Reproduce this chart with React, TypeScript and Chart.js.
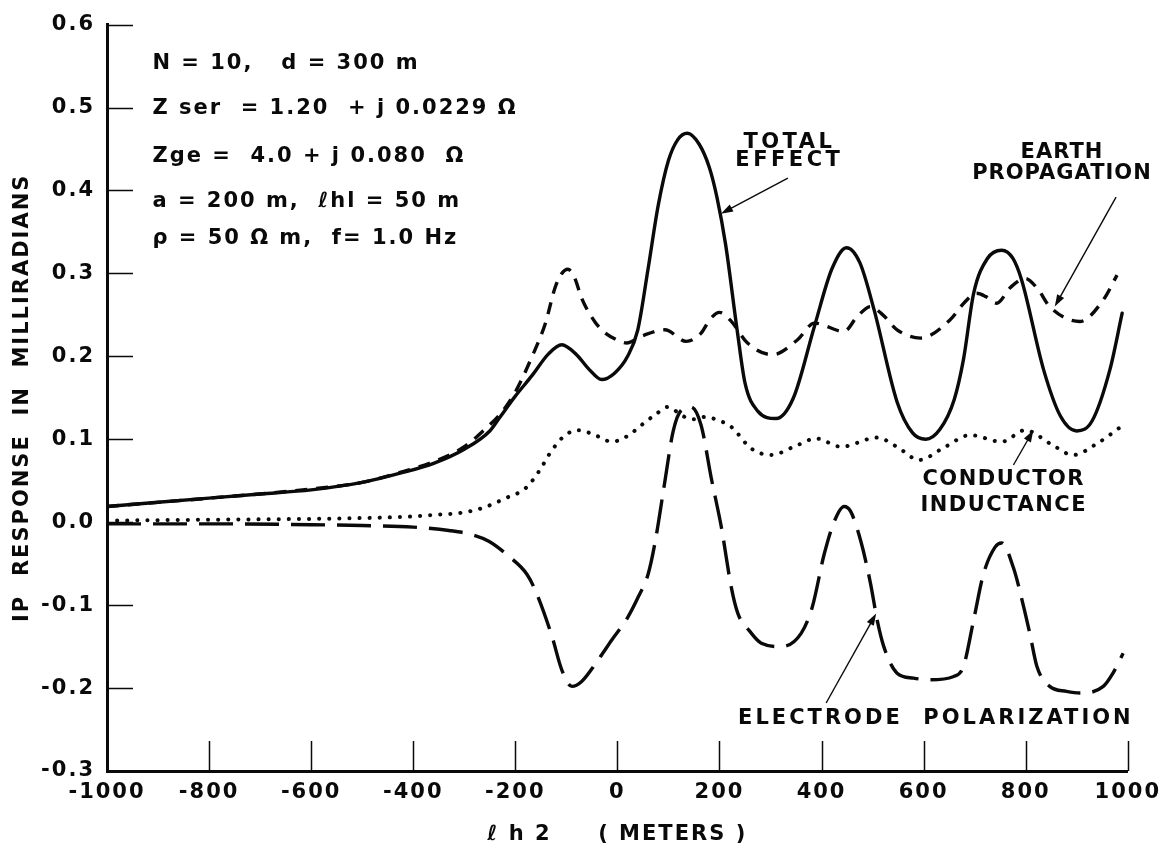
import React, { useEffect, useRef } from 'react';
import { Chart, registerables } from 'chart.js';

Chart.register(...registerables);

// Axis ticks
const xTicks = [-1000, -800, -600, -400, -200, 0, 200, 400, 600, 800, 1000];
const yTicks = [-0.3, -0.2, -0.1, 0.0, 0.1, 0.2, 0.3, 0.4, 0.5, 0.6];

// TOTAL EFFECT (solid)
const totalEffectX = [-1000, -900, -800, -700, -600, -500, -420, -360, -300, -250, -232, -200, -167, -135, -109, -80, -55, -31, -5, 20, 40, 60, 80, 100, 118, 137, 160, 180, 195, 212, 235, 250, 275, 311, 345, 386, 420, 449, 475, 503, 548, 578, 604, 632, 660, 678, 698, 725, 753, 775, 792, 835, 868, 900, 930, 965, 989];
const totalEffectY = [0.019, 0.024, 0.029, 0.034, 0.039, 0.048, 0.060, 0.071, 0.088, 0.110, 0.125, 0.152, 0.177, 0.203, 0.214, 0.202, 0.184, 0.172, 0.180, 0.200, 0.232, 0.305, 0.382, 0.436, 0.461, 0.469, 0.456, 0.428, 0.392, 0.335, 0.230, 0.168, 0.134, 0.125, 0.150, 0.236, 0.305, 0.331, 0.313, 0.256, 0.145, 0.108, 0.100, 0.112, 0.148, 0.196, 0.276, 0.318, 0.328, 0.318, 0.292, 0.184, 0.128, 0.110, 0.122, 0.184, 0.252];

// EARTH PROPAGATION (short dashes)
const earthX = [-1000, -800, -600, -500, -420, -360, -300, -258, -230, -200, -167, -141, -122, -110, -97, -84, -70, -50, -31, 2, 18, 50, 93, 135, 164, 182, 200, 222, 255, 304, 353, 386, 444, 470, 496, 520, 548, 594, 652, 680, 704, 722, 743, 770, 799, 825, 847, 906, 952, 979];
const earthY = [0.019, 0.029, 0.040, 0.048, 0.061, 0.073, 0.091, 0.113, 0.130, 0.157, 0.200, 0.240, 0.283, 0.299, 0.305, 0.295, 0.270, 0.247, 0.232, 0.219, 0.216, 0.225, 0.232, 0.218, 0.228, 0.245, 0.253, 0.243, 0.216, 0.202, 0.220, 0.240, 0.230, 0.248, 0.260, 0.250, 0.232, 0.222, 0.244, 0.265, 0.276, 0.272, 0.264, 0.283, 0.294, 0.280, 0.260, 0.242, 0.268, 0.298];

// CONDUCTOR INDUCTANCE (dots)
const inductanceX = [-1000, -800, -600, -500, -400, -356, -310, -265, -219, -180, -154, -128, -102, -76, -40, -11, 20, 47, 75, 99, 128, 150, 172, 197, 223, 262, 300, 353, 389, 438, 509, 550, 591, 640, 691, 753, 799, 850, 893, 940, 991];
const inductanceY = [0.002, 0.003, 0.004, 0.005, 0.007, 0.009, 0.011, 0.017, 0.029, 0.041, 0.061, 0.087, 0.105, 0.111, 0.104, 0.097, 0.104, 0.117, 0.130, 0.139, 0.128, 0.124, 0.127, 0.123, 0.115, 0.089, 0.081, 0.093, 0.101, 0.091, 0.102, 0.090, 0.075, 0.090, 0.105, 0.097, 0.111, 0.094, 0.081, 0.095, 0.117];

// ELECTRODE POLARIZATION (long dashes)
const electrodeX = [-1000, -800, -600, -500, -400, -330, -285, -252, -213, -177, -161, -128, -109, -89, -70, -40, -11, 20, 41, 60, 73, 93, 109, 125, 144, 164, 184, 204, 223, 236, 260, 282, 321, 360, 382, 405, 425, 444, 457, 477, 496, 509, 522, 548, 580, 613, 659, 678, 698, 717, 740, 753, 776, 796, 808, 822, 847, 880, 906, 952, 971, 991];
const electrodeY = [-0.002, -0.002, -0.003, -0.004, -0.006, -0.010, -0.015, -0.023, -0.041, -0.063, -0.082, -0.138, -0.178, -0.198, -0.192, -0.168, -0.142, -0.115, -0.090, -0.063, -0.027, 0.049, 0.109, 0.135, 0.139, 0.117, 0.053, -0.007, -0.078, -0.110, -0.132, -0.146, -0.150, -0.134, -0.102, -0.039, 0.001, 0.019, 0.013, -0.023, -0.074, -0.118, -0.150, -0.182, -0.188, -0.190, -0.186, -0.174, -0.118, -0.063, -0.030, -0.025, -0.055, -0.102, -0.134, -0.174, -0.198, -0.204, -0.206, -0.198, -0.182, -0.158];

// Parameter block in the upper-left corner
const parameterLines = [
  'N = 10,   d = 300 m',
  'Z ser  = 1.20  + j 0.0229 Ω',
  'Zge =  4.0 + j 0.080  Ω',
  'a = 200 m,  ℓhl = 50 m',
  'ρ = 50 Ω m,  f= 1.0 Hz',
];
const parameterAnchor = { x: -911, y: [0.553, 0.499, 0.441, 0.387, 0.342] };

// Curve captions (centre of each text line, data coordinates) and their pointer arrows
const curveCaptions = [
  { lines: ['TOTAL', 'EFFECT'], spacing: 3.5, x: 337, y: [0.458, 0.436], tail: [334, 0.415], head: [203, 0.372] },
  { lines: ['EARTH', 'PROPAGATION'], spacing: 1, x: 871, y: [0.446, 0.420], tail: [977, 0.392], head: [857, 0.260] },
  { lines: ['CONDUCTOR', 'INDUCTANCE'], spacing: 1.5, x: 757, y: [0.051, 0.020], tail: [776, 0.069], head: [815, 0.111] },
  { lines: ['ELECTRODE  POLARIZATION'], spacing: 3, x: 624, y: [-0.237], tail: [409, -0.218], head: [507, -0.110] },
];

const FONT = 'DejaVu Sans';
const INK = '#0a0a0a';

const pairs = (xs: number[], ys: number[]) => xs.map((x, i) => ({ x, y: ys[i] }));

const figurePlugin = {
  id: 'figureMarks',
  beforeDraw(chart: any) {
    chart.ctx.letterSpacing = '2px';
  },
  beforeDatasetsDraw(chart: any) {
    const { ctx, chartArea, scales } = chart;
    ctx.save();
    ctx.strokeStyle = INK;
    ctx.lineWidth = 1.5;
    ctx.beginPath();
    yTicks.forEach((v) => {
      if (v === -0.3) return;
      const py = Math.round(scales.y.getPixelForValue(v)) + 0.5;
      ctx.moveTo(chartArea.left, py);
      ctx.lineTo(chartArea.left + 26, py);
    });
    xTicks.forEach((v) => {
      if (v === -1000) return;
      const px = Math.round(scales.x.getPixelForValue(v)) + 0.5;
      ctx.moveTo(px, chartArea.bottom);
      ctx.lineTo(px, chartArea.bottom - 30);
    });
    ctx.stroke();
    ctx.restore();
  },
  afterDatasetsDraw(chart: any) {
    const { ctx, scales } = chart;
    const X = (v: number) => scales.x.getPixelForValue(v);
    const Y = (v: number) => scales.y.getPixelForValue(v);
    ctx.save();
    ctx.fillStyle = INK;
    ctx.strokeStyle = INK;
    ctx.textBaseline = 'middle';

    // parameter block
    ctx.font = `bold 21px "${FONT}"`;
    ctx.letterSpacing = '2px';
    ctx.textAlign = 'left';
    parameterLines.forEach((t, i) => ctx.fillText(t, X(parameterAnchor.x), Y(parameterAnchor.y[i])));

    // captions and arrows
    ctx.font = `bold 21px "${FONT}"`;
    ctx.textAlign = 'center';
    curveCaptions.forEach((c) => {
      ctx.letterSpacing = `${c.spacing}px`;
      c.lines.forEach((t, i) => ctx.fillText(t, X(c.x), Y(c.y[i])));
      const x0 = X(c.tail[0]);
      const y0 = Y(c.tail[1]);
      const x1 = X(c.head[0]);
      const y1 = Y(c.head[1]);
      const ang = Math.atan2(y1 - y0, x1 - x0);
      const len = 12;
      const half = 4;
      ctx.lineWidth = 1.4;
      ctx.beginPath();
      ctx.moveTo(x0, y0);
      ctx.lineTo(x1 - Math.cos(ang) * len * 0.8, y1 - Math.sin(ang) * len * 0.8);
      ctx.stroke();
      ctx.beginPath();
      ctx.moveTo(x1, y1);
      ctx.lineTo(x1 - Math.cos(ang) * len + Math.sin(ang) * half, y1 - Math.sin(ang) * len - Math.cos(ang) * half);
      ctx.lineTo(x1 - Math.cos(ang) * len - Math.sin(ang) * half, y1 - Math.sin(ang) * len + Math.cos(ang) * half);
      ctx.closePath();
      ctx.fill();
    });
    ctx.restore();
  },
  afterDraw(chart: any) {
    chart.ctx.letterSpacing = '0px';
  },
};

export default function App() {
  const canvasRef = useRef<HTMLCanvasElement | null>(null);

  useEffect(() => {
    const canvas = canvasRef.current;
    if (!canvas) return;
    const lineBase = {
      pointRadius: 0,
      borderColor: INK,
      borderWidth: 3.4,
      fill: false,
      cubicInterpolationMode: 'monotone' as const,
      borderCapStyle: 'round' as const,
      borderJoinStyle: 'round' as const,
    };
    const chart = new Chart(canvas, {
      type: 'line',
      data: {
        datasets: [
          { ...lineBase, label: 'Total effect', data: pairs(totalEffectX, totalEffectY) },
          { ...lineBase, label: 'Earth propagation', data: pairs(earthX, earthY), borderDash: [12, 9], borderCapStyle: 'butt' as const },
          { ...lineBase, label: 'Conductor inductance', data: pairs(inductanceX, inductanceY), borderDash: [0.1, 10], borderWidth: 4 },
          { ...lineBase, label: 'Electrode polarization', data: pairs(electrodeX, electrodeY), borderDash: [34, 12], borderCapStyle: 'butt' as const },
        ],
      },
      options: {
        animation: false,
        responsive: true,
        maintainAspectRatio: false,
        devicePixelRatio: 1,
        layout: { padding: { left: 0, top: 18, right: 34, bottom: 0 } },
        plugins: { legend: { display: false }, tooltip: { enabled: false } },
        scales: {
          x: {
            type: 'linear',
            min: -1000,
            max: 1000,
            afterBuildTicks: (s: any) => { s.ticks = xTicks.map((value) => ({ value })); },
            afterFit: (s: any) => { s.height = 76; },
            grid: { display: false, drawTicks: false },
            border: { display: true, color: INK, width: 3 },
            ticks: {
              padding: 9,
              color: INK,
              maxRotation: 0,
              autoSkip: false,
              font: { family: FONT, size: 21, weight: 'bold' },
              callback: (v: any) => String(v),
            },
            title: {
              display: true,
              text: 'ℓ h 2     ( METERS )',
              color: INK,
              font: { family: FONT, size: 21, weight: 'bold' },
              padding: { top: 0, bottom: 0 },
            },
          },
          y: {
            type: 'linear',
            min: -0.3,
            max: 0.6,
            afterBuildTicks: (s: any) => { s.ticks = yTicks.map((value) => ({ value })); },
            afterFit: (s: any) => { s.width = 107; },
            grid: { display: false, drawTicks: false },
            border: { display: true, color: INK, width: 3 },
            ticks: {
              padding: 12,
              color: INK,
              autoSkip: false,
              font: { family: FONT, size: 21, weight: 'bold' },
              callback: (v: any) => Number(v).toFixed(1),
            },
            title: {
              display: true,
              text: 'IP  RESPONSE  IN  MILLIRADIANS',
              color: INK,
              font: { family: FONT, size: 21, weight: 'bold' },
              padding: { top: 10, bottom: 0 },
            },
          },
        },
      },
      plugins: [figurePlugin],
    });
    return () => chart.destroy();
  }, []);

  return (
    <div style={{ position: 'absolute', left: 0, top: 0, width: 1166, height: 847, background: '#fff' }}>
      <canvas ref={canvasRef} style={{ display: 'block' }} />
    </div>
  );
}
